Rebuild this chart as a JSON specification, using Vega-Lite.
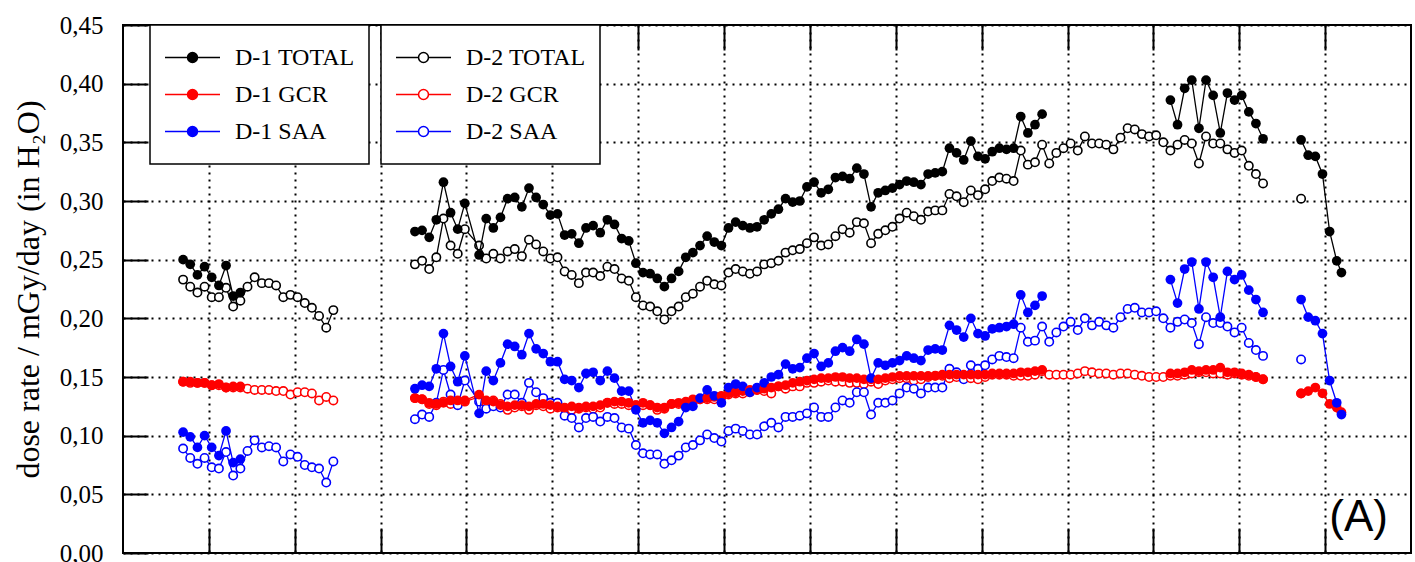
{
  "$schema": "https://vega.github.io/schema/vega-lite/v6.json",
  "width": 1288,
  "height": 528,
  "autosize": "none",
  "padding": {"left": 123, "top": 25, "right": 4, "bottom": 9},
  "background": "white",
  "config": {
    "view": {"stroke": "black", "strokeWidth": 2},
    "font": "Liberation Serif"
  },
  "title": {
    "text": "(A)",
    "orient": "bottom",
    "anchor": "end",
    "frame": "group",
    "offset": -70,
    "dx": -23,
    "font": "Liberation Sans",
    "fontSize": 44,
    "fontWeight": "normal",
    "color": "black"
  },
  "datasets": {
    "d1": [
      {"x": 0.700, "seg": 1, "TOTAL": 0.250, "GCR": 0.146, "SAA": 0.103},
      {"x": 0.783, "seg": 1, "TOTAL": 0.246, "GCR": 0.146, "SAA": 0.099},
      {"x": 0.867, "seg": 1, "TOTAL": 0.237, "GCR": 0.145, "SAA": 0.090},
      {"x": 0.950, "seg": 1, "TOTAL": 0.244, "GCR": 0.145, "SAA": 0.100},
      {"x": 1.033, "seg": 1, "TOTAL": 0.235, "GCR": 0.143, "SAA": 0.090},
      {"x": 1.117, "seg": 1, "TOTAL": 0.228, "GCR": 0.144, "SAA": 0.083},
      {"x": 1.200, "seg": 1, "TOTAL": 0.245, "GCR": 0.141, "SAA": 0.104},
      {"x": 1.283, "seg": 1, "TOTAL": 0.219, "GCR": 0.142, "SAA": 0.077},
      {"x": 1.367, "seg": 1, "TOTAL": 0.222, "GCR": 0.142, "SAA": 0.080},
      {"x": 3.400, "seg": 2, "TOTAL": 0.274, "GCR": 0.132, "SAA": 0.140},
      {"x": 3.483, "seg": 2, "TOTAL": 0.275, "GCR": 0.131, "SAA": 0.143},
      {"x": 3.566, "seg": 2, "TOTAL": 0.269, "GCR": 0.128, "SAA": 0.142},
      {"x": 3.649, "seg": 2, "TOTAL": 0.284, "GCR": 0.127, "SAA": 0.157},
      {"x": 3.732, "seg": 2, "TOTAL": 0.316, "GCR": 0.128, "SAA": 0.187},
      {"x": 3.815, "seg": 2, "TOTAL": 0.290, "GCR": 0.130, "SAA": 0.159},
      {"x": 3.898, "seg": 2, "TOTAL": 0.276, "GCR": 0.130, "SAA": 0.146},
      {"x": 3.981, "seg": 2, "TOTAL": 0.298, "GCR": 0.130, "SAA": 0.168},
      {"x": 4.147, "seg": 2, "TOTAL": 0.254, "GCR": 0.135, "SAA": 0.119},
      {"x": 4.230, "seg": 2, "TOTAL": 0.285, "GCR": 0.130, "SAA": 0.155},
      {"x": 4.313, "seg": 2, "TOTAL": 0.277, "GCR": 0.129, "SAA": 0.147},
      {"x": 4.396, "seg": 2, "TOTAL": 0.286, "GCR": 0.126, "SAA": 0.162},
      {"x": 4.479, "seg": 2, "TOTAL": 0.302, "GCR": 0.125, "SAA": 0.178},
      {"x": 4.562, "seg": 2, "TOTAL": 0.303, "GCR": 0.126, "SAA": 0.176},
      {"x": 4.645, "seg": 2, "TOTAL": 0.295, "GCR": 0.126, "SAA": 0.169},
      {"x": 4.728, "seg": 2, "TOTAL": 0.311, "GCR": 0.125, "SAA": 0.187},
      {"x": 4.811, "seg": 2, "TOTAL": 0.303, "GCR": 0.127, "SAA": 0.174},
      {"x": 4.894, "seg": 2, "TOTAL": 0.297, "GCR": 0.127, "SAA": 0.170},
      {"x": 4.977, "seg": 2, "TOTAL": 0.288, "GCR": 0.126, "SAA": 0.163},
      {"x": 5.060, "seg": 2, "TOTAL": 0.289, "GCR": 0.125, "SAA": 0.163},
      {"x": 5.143, "seg": 2, "TOTAL": 0.271, "GCR": 0.124, "SAA": 0.148},
      {"x": 5.226, "seg": 2, "TOTAL": 0.272, "GCR": 0.125, "SAA": 0.147},
      {"x": 5.309, "seg": 2, "TOTAL": 0.264, "GCR": 0.124, "SAA": 0.141},
      {"x": 5.392, "seg": 2, "TOTAL": 0.277, "GCR": 0.125, "SAA": 0.153},
      {"x": 5.475, "seg": 2, "TOTAL": 0.279, "GCR": 0.125, "SAA": 0.154},
      {"x": 5.558, "seg": 2, "TOTAL": 0.273, "GCR": 0.126, "SAA": 0.147},
      {"x": 5.641, "seg": 2, "TOTAL": 0.284, "GCR": 0.128, "SAA": 0.155},
      {"x": 5.724, "seg": 2, "TOTAL": 0.280, "GCR": 0.129, "SAA": 0.149},
      {"x": 5.807, "seg": 2, "TOTAL": 0.268, "GCR": 0.129, "SAA": 0.138},
      {"x": 5.890, "seg": 2, "TOTAL": 0.266, "GCR": 0.128, "SAA": 0.138},
      {"x": 5.973, "seg": 2, "TOTAL": 0.247, "GCR": 0.126, "SAA": 0.122},
      {"x": 6.056, "seg": 2, "TOTAL": 0.239, "GCR": 0.128, "SAA": 0.111},
      {"x": 6.139, "seg": 2, "TOTAL": 0.238, "GCR": 0.126, "SAA": 0.113},
      {"x": 6.222, "seg": 2, "TOTAL": 0.234, "GCR": 0.124, "SAA": 0.111},
      {"x": 6.305, "seg": 2, "TOTAL": 0.227, "GCR": 0.124, "SAA": 0.102},
      {"x": 6.388, "seg": 2, "TOTAL": 0.234, "GCR": 0.127, "SAA": 0.107},
      {"x": 6.471, "seg": 2, "TOTAL": 0.240, "GCR": 0.128, "SAA": 0.112},
      {"x": 6.554, "seg": 2, "TOTAL": 0.252, "GCR": 0.129, "SAA": 0.124},
      {"x": 6.637, "seg": 2, "TOTAL": 0.256, "GCR": 0.131, "SAA": 0.125},
      {"x": 6.720, "seg": 2, "TOTAL": 0.262, "GCR": 0.131, "SAA": 0.132},
      {"x": 6.803, "seg": 2, "TOTAL": 0.270, "GCR": 0.132, "SAA": 0.139},
      {"x": 6.886, "seg": 2, "TOTAL": 0.265, "GCR": 0.133, "SAA": 0.134},
      {"x": 6.969, "seg": 2, "TOTAL": 0.262, "GCR": 0.134, "SAA": 0.128},
      {"x": 7.052, "seg": 2, "TOTAL": 0.277, "GCR": 0.136, "SAA": 0.141},
      {"x": 7.135, "seg": 2, "TOTAL": 0.282, "GCR": 0.137, "SAA": 0.144},
      {"x": 7.218, "seg": 2, "TOTAL": 0.279, "GCR": 0.138, "SAA": 0.142},
      {"x": 7.301, "seg": 2, "TOTAL": 0.277, "GCR": 0.139, "SAA": 0.137},
      {"x": 7.384, "seg": 2, "TOTAL": 0.278, "GCR": 0.139, "SAA": 0.141},
      {"x": 7.467, "seg": 2, "TOTAL": 0.284, "GCR": 0.140, "SAA": 0.145},
      {"x": 7.550, "seg": 2, "TOTAL": 0.289, "GCR": 0.141, "SAA": 0.150},
      {"x": 7.633, "seg": 2, "TOTAL": 0.293, "GCR": 0.142, "SAA": 0.152},
      {"x": 7.716, "seg": 2, "TOTAL": 0.302, "GCR": 0.143, "SAA": 0.161},
      {"x": 7.799, "seg": 2, "TOTAL": 0.299, "GCR": 0.145, "SAA": 0.157},
      {"x": 7.882, "seg": 2, "TOTAL": 0.300, "GCR": 0.146, "SAA": 0.158},
      {"x": 7.965, "seg": 2, "TOTAL": 0.312, "GCR": 0.147, "SAA": 0.166},
      {"x": 8.048, "seg": 2, "TOTAL": 0.316, "GCR": 0.148, "SAA": 0.170},
      {"x": 8.131, "seg": 2, "TOTAL": 0.307, "GCR": 0.149, "SAA": 0.159},
      {"x": 8.214, "seg": 2, "TOTAL": 0.310, "GCR": 0.149, "SAA": 0.162},
      {"x": 8.297, "seg": 2, "TOTAL": 0.320, "GCR": 0.150, "SAA": 0.172},
      {"x": 8.380, "seg": 2, "TOTAL": 0.321, "GCR": 0.150, "SAA": 0.175},
      {"x": 8.463, "seg": 2, "TOTAL": 0.319, "GCR": 0.149, "SAA": 0.172},
      {"x": 8.546, "seg": 2, "TOTAL": 0.328, "GCR": 0.149, "SAA": 0.182},
      {"x": 8.629, "seg": 2, "TOTAL": 0.323, "GCR": 0.148, "SAA": 0.178},
      {"x": 8.712, "seg": 2, "TOTAL": 0.295, "GCR": 0.148, "SAA": 0.149},
      {"x": 8.795, "seg": 2, "TOTAL": 0.307, "GCR": 0.148, "SAA": 0.162},
      {"x": 8.878, "seg": 2, "TOTAL": 0.309, "GCR": 0.149, "SAA": 0.160},
      {"x": 8.961, "seg": 2, "TOTAL": 0.311, "GCR": 0.150, "SAA": 0.162},
      {"x": 9.044, "seg": 2, "TOTAL": 0.314, "GCR": 0.151, "SAA": 0.164},
      {"x": 9.127, "seg": 2, "TOTAL": 0.317, "GCR": 0.151, "SAA": 0.168},
      {"x": 9.210, "seg": 2, "TOTAL": 0.316, "GCR": 0.151, "SAA": 0.166},
      {"x": 9.293, "seg": 2, "TOTAL": 0.314, "GCR": 0.151, "SAA": 0.164},
      {"x": 9.376, "seg": 2, "TOTAL": 0.323, "GCR": 0.151, "SAA": 0.173},
      {"x": 9.459, "seg": 2, "TOTAL": 0.324, "GCR": 0.151, "SAA": 0.174},
      {"x": 9.542, "seg": 2, "TOTAL": 0.325, "GCR": 0.152, "SAA": 0.173},
      {"x": 9.625, "seg": 2, "TOTAL": 0.345, "GCR": 0.152, "SAA": 0.194},
      {"x": 9.708, "seg": 2, "TOTAL": 0.341, "GCR": 0.152, "SAA": 0.190},
      {"x": 9.791, "seg": 2, "TOTAL": 0.335, "GCR": 0.152, "SAA": 0.184},
      {"x": 9.874, "seg": 2, "TOTAL": 0.351, "GCR": 0.152, "SAA": 0.200},
      {"x": 9.957, "seg": 2, "TOTAL": 0.338, "GCR": 0.152, "SAA": 0.187},
      {"x": 10.040, "seg": 2, "TOTAL": 0.336, "GCR": 0.152, "SAA": 0.185},
      {"x": 10.123, "seg": 2, "TOTAL": 0.342, "GCR": 0.153, "SAA": 0.191},
      {"x": 10.206, "seg": 2, "TOTAL": 0.345, "GCR": 0.153, "SAA": 0.192},
      {"x": 10.289, "seg": 2, "TOTAL": 0.344, "GCR": 0.153, "SAA": 0.193},
      {"x": 10.372, "seg": 2, "TOTAL": 0.345, "GCR": 0.153, "SAA": 0.195},
      {"x": 10.455, "seg": 2, "TOTAL": 0.372, "GCR": 0.154, "SAA": 0.220},
      {"x": 10.538, "seg": 2, "TOTAL": 0.358, "GCR": 0.154, "SAA": 0.205},
      {"x": 10.621, "seg": 2, "TOTAL": 0.365, "GCR": 0.155, "SAA": 0.211},
      {"x": 10.704, "seg": 2, "TOTAL": 0.374, "GCR": 0.156, "SAA": 0.219},
      {"x": 12.198, "seg": 3, "TOTAL": 0.386, "GCR": 0.153, "SAA": 0.233},
      {"x": 12.281, "seg": 3, "TOTAL": 0.365, "GCR": 0.153, "SAA": 0.213},
      {"x": 12.364, "seg": 3, "TOTAL": 0.396, "GCR": 0.154, "SAA": 0.242},
      {"x": 12.447, "seg": 3, "TOTAL": 0.403, "GCR": 0.156, "SAA": 0.248},
      {"x": 12.530, "seg": 3, "TOTAL": 0.362, "GCR": 0.155, "SAA": 0.208},
      {"x": 12.613, "seg": 3, "TOTAL": 0.403, "GCR": 0.156, "SAA": 0.248},
      {"x": 12.696, "seg": 3, "TOTAL": 0.390, "GCR": 0.156, "SAA": 0.235},
      {"x": 12.779, "seg": 3, "TOTAL": 0.358, "GCR": 0.158, "SAA": 0.201},
      {"x": 12.862, "seg": 3, "TOTAL": 0.392, "GCR": 0.154, "SAA": 0.240},
      {"x": 12.945, "seg": 3, "TOTAL": 0.386, "GCR": 0.154, "SAA": 0.233},
      {"x": 13.028, "seg": 3, "TOTAL": 0.390, "GCR": 0.153, "SAA": 0.237},
      {"x": 13.111, "seg": 3, "TOTAL": 0.376, "GCR": 0.152, "SAA": 0.224},
      {"x": 13.194, "seg": 3, "TOTAL": 0.366, "GCR": 0.150, "SAA": 0.216},
      {"x": 13.277, "seg": 3, "TOTAL": 0.353, "GCR": 0.148, "SAA": 0.205},
      {"x": 13.720, "seg": 4, "TOTAL": 0.352, "GCR": 0.136, "SAA": 0.216},
      {"x": 13.803, "seg": 4, "TOTAL": 0.339, "GCR": 0.138, "SAA": 0.201},
      {"x": 13.886, "seg": 4, "TOTAL": 0.338, "GCR": 0.141, "SAA": 0.198},
      {"x": 13.969, "seg": 4, "TOTAL": 0.323, "GCR": 0.136, "SAA": 0.187},
      {"x": 14.052, "seg": 4, "TOTAL": 0.274, "GCR": 0.127, "SAA": 0.147},
      {"x": 14.135, "seg": 4, "TOTAL": 0.249, "GCR": 0.124, "SAA": 0.128},
      {"x": 14.190, "seg": 4, "TOTAL": 0.239, "GCR": 0.120, "SAA": 0.118}
    ],
    "d2": [
      {"x": 0.700, "seg": 1, "TOTAL": 0.233, "GCR": 0.146, "SAA": 0.089},
      {"x": 0.783, "seg": 1, "TOTAL": 0.227, "GCR": 0.145, "SAA": 0.081},
      {"x": 0.867, "seg": 1, "TOTAL": 0.222, "GCR": 0.145, "SAA": 0.076},
      {"x": 0.950, "seg": 1, "TOTAL": 0.227, "GCR": 0.145, "SAA": 0.081},
      {"x": 1.033, "seg": 1, "TOTAL": 0.218, "GCR": 0.143, "SAA": 0.073},
      {"x": 1.117, "seg": 1, "TOTAL": 0.218, "GCR": 0.143, "SAA": 0.072},
      {"x": 1.200, "seg": 1, "TOTAL": 0.226, "GCR": 0.141, "SAA": 0.086},
      {"x": 1.283, "seg": 1, "TOTAL": 0.210, "GCR": 0.141, "SAA": 0.066},
      {"x": 1.367, "seg": 1, "TOTAL": 0.215, "GCR": 0.141, "SAA": 0.072},
      {"x": 1.450, "seg": 1, "TOTAL": 0.227, "GCR": 0.140, "SAA": 0.087},
      {"x": 1.533, "seg": 1, "TOTAL": 0.235, "GCR": 0.139, "SAA": 0.096},
      {"x": 1.617, "seg": 1, "TOTAL": 0.230, "GCR": 0.139, "SAA": 0.090},
      {"x": 1.700, "seg": 1, "TOTAL": 0.230, "GCR": 0.139, "SAA": 0.091},
      {"x": 1.783, "seg": 1, "TOTAL": 0.228, "GCR": 0.138, "SAA": 0.090},
      {"x": 1.867, "seg": 1, "TOTAL": 0.218, "GCR": 0.138, "SAA": 0.078},
      {"x": 1.950, "seg": 1, "TOTAL": 0.220, "GCR": 0.135, "SAA": 0.084},
      {"x": 2.033, "seg": 1, "TOTAL": 0.218, "GCR": 0.137, "SAA": 0.082},
      {"x": 2.117, "seg": 1, "TOTAL": 0.213, "GCR": 0.137, "SAA": 0.075},
      {"x": 2.200, "seg": 1, "TOTAL": 0.209, "GCR": 0.136, "SAA": 0.073},
      {"x": 2.283, "seg": 1, "TOTAL": 0.202, "GCR": 0.130, "SAA": 0.072},
      {"x": 2.367, "seg": 1, "TOTAL": 0.192, "GCR": 0.133, "SAA": 0.060},
      {"x": 2.450, "seg": 1, "TOTAL": 0.207, "GCR": 0.130, "SAA": 0.078},
      {"x": 3.400, "seg": 2, "TOTAL": 0.246, "GCR": 0.132, "SAA": 0.114},
      {"x": 3.483, "seg": 2, "TOTAL": 0.249, "GCR": 0.131, "SAA": 0.118},
      {"x": 3.566, "seg": 2, "TOTAL": 0.242, "GCR": 0.127, "SAA": 0.116},
      {"x": 3.649, "seg": 2, "TOTAL": 0.252, "GCR": 0.126, "SAA": 0.128},
      {"x": 3.732, "seg": 2, "TOTAL": 0.285, "GCR": 0.129, "SAA": 0.156},
      {"x": 3.815, "seg": 2, "TOTAL": 0.262, "GCR": 0.127, "SAA": 0.135},
      {"x": 3.898, "seg": 2, "TOTAL": 0.255, "GCR": 0.129, "SAA": 0.126},
      {"x": 3.981, "seg": 2, "TOTAL": 0.276, "GCR": 0.129, "SAA": 0.147},
      {"x": 4.147, "seg": 2, "TOTAL": 0.262, "GCR": 0.133, "SAA": 0.129},
      {"x": 4.230, "seg": 2, "TOTAL": 0.251, "GCR": 0.128, "SAA": 0.123},
      {"x": 4.313, "seg": 2, "TOTAL": 0.255, "GCR": 0.130, "SAA": 0.125},
      {"x": 4.396, "seg": 2, "TOTAL": 0.251, "GCR": 0.127, "SAA": 0.124},
      {"x": 4.479, "seg": 2, "TOTAL": 0.257, "GCR": 0.122, "SAA": 0.135},
      {"x": 4.562, "seg": 2, "TOTAL": 0.259, "GCR": 0.124, "SAA": 0.135},
      {"x": 4.645, "seg": 2, "TOTAL": 0.253, "GCR": 0.125, "SAA": 0.128},
      {"x": 4.728, "seg": 2, "TOTAL": 0.267, "GCR": 0.122, "SAA": 0.145},
      {"x": 4.811, "seg": 2, "TOTAL": 0.263, "GCR": 0.126, "SAA": 0.137},
      {"x": 4.894, "seg": 2, "TOTAL": 0.257, "GCR": 0.125, "SAA": 0.132},
      {"x": 4.977, "seg": 2, "TOTAL": 0.251, "GCR": 0.123, "SAA": 0.128},
      {"x": 5.060, "seg": 2, "TOTAL": 0.252, "GCR": 0.124, "SAA": 0.128},
      {"x": 5.143, "seg": 2, "TOTAL": 0.240, "GCR": 0.123, "SAA": 0.117},
      {"x": 5.226, "seg": 2, "TOTAL": 0.237, "GCR": 0.122, "SAA": 0.115},
      {"x": 5.309, "seg": 2, "TOTAL": 0.230, "GCR": 0.123, "SAA": 0.107},
      {"x": 5.392, "seg": 2, "TOTAL": 0.239, "GCR": 0.124, "SAA": 0.115},
      {"x": 5.475, "seg": 2, "TOTAL": 0.239, "GCR": 0.123, "SAA": 0.116},
      {"x": 5.558, "seg": 2, "TOTAL": 0.236, "GCR": 0.124, "SAA": 0.112},
      {"x": 5.641, "seg": 2, "TOTAL": 0.244, "GCR": 0.128, "SAA": 0.116},
      {"x": 5.724, "seg": 2, "TOTAL": 0.242, "GCR": 0.127, "SAA": 0.115},
      {"x": 5.807, "seg": 2, "TOTAL": 0.234, "GCR": 0.127, "SAA": 0.107},
      {"x": 5.890, "seg": 2, "TOTAL": 0.232, "GCR": 0.126, "SAA": 0.106},
      {"x": 5.973, "seg": 2, "TOTAL": 0.218, "GCR": 0.126, "SAA": 0.092},
      {"x": 6.056, "seg": 2, "TOTAL": 0.211, "GCR": 0.126, "SAA": 0.085},
      {"x": 6.139, "seg": 2, "TOTAL": 0.210, "GCR": 0.126, "SAA": 0.084},
      {"x": 6.222, "seg": 2, "TOTAL": 0.206, "GCR": 0.122, "SAA": 0.084},
      {"x": 6.305, "seg": 2, "TOTAL": 0.199, "GCR": 0.123, "SAA": 0.076},
      {"x": 6.388, "seg": 2, "TOTAL": 0.206, "GCR": 0.127, "SAA": 0.079},
      {"x": 6.471, "seg": 2, "TOTAL": 0.210, "GCR": 0.127, "SAA": 0.083},
      {"x": 6.554, "seg": 2, "TOTAL": 0.218, "GCR": 0.128, "SAA": 0.090},
      {"x": 6.637, "seg": 2, "TOTAL": 0.221, "GCR": 0.129, "SAA": 0.092},
      {"x": 6.720, "seg": 2, "TOTAL": 0.227, "GCR": 0.131, "SAA": 0.096},
      {"x": 6.803, "seg": 2, "TOTAL": 0.232, "GCR": 0.131, "SAA": 0.101},
      {"x": 6.886, "seg": 2, "TOTAL": 0.229, "GCR": 0.131, "SAA": 0.098},
      {"x": 6.969, "seg": 2, "TOTAL": 0.228, "GCR": 0.133, "SAA": 0.095},
      {"x": 7.052, "seg": 2, "TOTAL": 0.239, "GCR": 0.135, "SAA": 0.104},
      {"x": 7.135, "seg": 2, "TOTAL": 0.242, "GCR": 0.136, "SAA": 0.106},
      {"x": 7.218, "seg": 2, "TOTAL": 0.240, "GCR": 0.136, "SAA": 0.104},
      {"x": 7.301, "seg": 2, "TOTAL": 0.238, "GCR": 0.137, "SAA": 0.101},
      {"x": 7.384, "seg": 2, "TOTAL": 0.240, "GCR": 0.139, "SAA": 0.101},
      {"x": 7.467, "seg": 2, "TOTAL": 0.246, "GCR": 0.138, "SAA": 0.108},
      {"x": 7.550, "seg": 2, "TOTAL": 0.247, "GCR": 0.136, "SAA": 0.111},
      {"x": 7.633, "seg": 2, "TOTAL": 0.249, "GCR": 0.142, "SAA": 0.107},
      {"x": 7.716, "seg": 2, "TOTAL": 0.256, "GCR": 0.140, "SAA": 0.116},
      {"x": 7.799, "seg": 2, "TOTAL": 0.258, "GCR": 0.142, "SAA": 0.116},
      {"x": 7.882, "seg": 2, "TOTAL": 0.259, "GCR": 0.142, "SAA": 0.117},
      {"x": 7.965, "seg": 2, "TOTAL": 0.264, "GCR": 0.145, "SAA": 0.119},
      {"x": 8.048, "seg": 2, "TOTAL": 0.269, "GCR": 0.145, "SAA": 0.124},
      {"x": 8.131, "seg": 2, "TOTAL": 0.262, "GCR": 0.146, "SAA": 0.116},
      {"x": 8.214, "seg": 2, "TOTAL": 0.263, "GCR": 0.147, "SAA": 0.116},
      {"x": 8.297, "seg": 2, "TOTAL": 0.270, "GCR": 0.146, "SAA": 0.124},
      {"x": 8.380, "seg": 2, "TOTAL": 0.276, "GCR": 0.146, "SAA": 0.130},
      {"x": 8.463, "seg": 2, "TOTAL": 0.273, "GCR": 0.145, "SAA": 0.128},
      {"x": 8.546, "seg": 2, "TOTAL": 0.282, "GCR": 0.145, "SAA": 0.137},
      {"x": 8.629, "seg": 2, "TOTAL": 0.281, "GCR": 0.144, "SAA": 0.137},
      {"x": 8.712, "seg": 2, "TOTAL": 0.264, "GCR": 0.146, "SAA": 0.118},
      {"x": 8.795, "seg": 2, "TOTAL": 0.272, "GCR": 0.144, "SAA": 0.128},
      {"x": 8.878, "seg": 2, "TOTAL": 0.275, "GCR": 0.147, "SAA": 0.128},
      {"x": 8.961, "seg": 2, "TOTAL": 0.278, "GCR": 0.148, "SAA": 0.130},
      {"x": 9.044, "seg": 2, "TOTAL": 0.285, "GCR": 0.149, "SAA": 0.136},
      {"x": 9.127, "seg": 2, "TOTAL": 0.290, "GCR": 0.149, "SAA": 0.141},
      {"x": 9.210, "seg": 2, "TOTAL": 0.287, "GCR": 0.147, "SAA": 0.140},
      {"x": 9.293, "seg": 2, "TOTAL": 0.284, "GCR": 0.148, "SAA": 0.136},
      {"x": 9.376, "seg": 2, "TOTAL": 0.291, "GCR": 0.150, "SAA": 0.141},
      {"x": 9.459, "seg": 2, "TOTAL": 0.292, "GCR": 0.151, "SAA": 0.141},
      {"x": 9.542, "seg": 2, "TOTAL": 0.292, "GCR": 0.151, "SAA": 0.141},
      {"x": 9.625, "seg": 2, "TOTAL": 0.306, "GCR": 0.149, "SAA": 0.157},
      {"x": 9.708, "seg": 2, "TOTAL": 0.304, "GCR": 0.150, "SAA": 0.154},
      {"x": 9.791, "seg": 2, "TOTAL": 0.299, "GCR": 0.151, "SAA": 0.148},
      {"x": 9.874, "seg": 2, "TOTAL": 0.309, "GCR": 0.149, "SAA": 0.160},
      {"x": 9.957, "seg": 2, "TOTAL": 0.305, "GCR": 0.148, "SAA": 0.157},
      {"x": 10.040, "seg": 2, "TOTAL": 0.310, "GCR": 0.150, "SAA": 0.160},
      {"x": 10.123, "seg": 2, "TOTAL": 0.317, "GCR": 0.152, "SAA": 0.165},
      {"x": 10.206, "seg": 2, "TOTAL": 0.320, "GCR": 0.152, "SAA": 0.168},
      {"x": 10.289, "seg": 2, "TOTAL": 0.319, "GCR": 0.152, "SAA": 0.167},
      {"x": 10.372, "seg": 2, "TOTAL": 0.317, "GCR": 0.151, "SAA": 0.166},
      {"x": 10.455, "seg": 2, "TOTAL": 0.343, "GCR": 0.151, "SAA": 0.192},
      {"x": 10.538, "seg": 2, "TOTAL": 0.331, "GCR": 0.151, "SAA": 0.180},
      {"x": 10.621, "seg": 2, "TOTAL": 0.333, "GCR": 0.152, "SAA": 0.181},
      {"x": 10.704, "seg": 2, "TOTAL": 0.348, "GCR": 0.155, "SAA": 0.193},
      {"x": 10.787, "seg": 2, "TOTAL": 0.332, "GCR": 0.152, "SAA": 0.180},
      {"x": 10.870, "seg": 2, "TOTAL": 0.341, "GCR": 0.152, "SAA": 0.188},
      {"x": 10.953, "seg": 2, "TOTAL": 0.345, "GCR": 0.152, "SAA": 0.193},
      {"x": 11.036, "seg": 2, "TOTAL": 0.349, "GCR": 0.152, "SAA": 0.197},
      {"x": 11.119, "seg": 2, "TOTAL": 0.343, "GCR": 0.153, "SAA": 0.190},
      {"x": 11.202, "seg": 2, "TOTAL": 0.355, "GCR": 0.155, "SAA": 0.200},
      {"x": 11.285, "seg": 2, "TOTAL": 0.349, "GCR": 0.154, "SAA": 0.194},
      {"x": 11.368, "seg": 2, "TOTAL": 0.349, "GCR": 0.153, "SAA": 0.197},
      {"x": 11.451, "seg": 2, "TOTAL": 0.348, "GCR": 0.153, "SAA": 0.194},
      {"x": 11.534, "seg": 2, "TOTAL": 0.344, "GCR": 0.152, "SAA": 0.192},
      {"x": 11.617, "seg": 2, "TOTAL": 0.354, "GCR": 0.153, "SAA": 0.201},
      {"x": 11.700, "seg": 2, "TOTAL": 0.362, "GCR": 0.153, "SAA": 0.208},
      {"x": 11.783, "seg": 2, "TOTAL": 0.361, "GCR": 0.152, "SAA": 0.209},
      {"x": 11.866, "seg": 2, "TOTAL": 0.357, "GCR": 0.151, "SAA": 0.205},
      {"x": 11.949, "seg": 2, "TOTAL": 0.355, "GCR": 0.150, "SAA": 0.205},
      {"x": 12.032, "seg": 2, "TOTAL": 0.356, "GCR": 0.150, "SAA": 0.206},
      {"x": 12.115, "seg": 2, "TOTAL": 0.350, "GCR": 0.150, "SAA": 0.200},
      {"x": 12.198, "seg": 2, "TOTAL": 0.343, "GCR": 0.151, "SAA": 0.192},
      {"x": 12.281, "seg": 2, "TOTAL": 0.348, "GCR": 0.151, "SAA": 0.197},
      {"x": 12.364, "seg": 2, "TOTAL": 0.352, "GCR": 0.152, "SAA": 0.199},
      {"x": 12.447, "seg": 2, "TOTAL": 0.349, "GCR": 0.153, "SAA": 0.196},
      {"x": 12.530, "seg": 2, "TOTAL": 0.332, "GCR": 0.154, "SAA": 0.178},
      {"x": 12.613, "seg": 2, "TOTAL": 0.355, "GCR": 0.154, "SAA": 0.201},
      {"x": 12.696, "seg": 2, "TOTAL": 0.349, "GCR": 0.153, "SAA": 0.196},
      {"x": 12.779, "seg": 2, "TOTAL": 0.349, "GCR": 0.153, "SAA": 0.196},
      {"x": 12.862, "seg": 2, "TOTAL": 0.344, "GCR": 0.152, "SAA": 0.193},
      {"x": 12.945, "seg": 2, "TOTAL": 0.341, "GCR": 0.153, "SAA": 0.188},
      {"x": 13.028, "seg": 2, "TOTAL": 0.343, "GCR": 0.152, "SAA": 0.192},
      {"x": 13.111, "seg": 2, "TOTAL": 0.330, "GCR": 0.151, "SAA": 0.179},
      {"x": 13.194, "seg": 2, "TOTAL": 0.323, "GCR": 0.150, "SAA": 0.173},
      {"x": 13.277, "seg": 2, "TOTAL": 0.315, "GCR": 0.148, "SAA": 0.168},
      {"x": 13.720, "seg": 3, "TOTAL": 0.302, "GCR": 0.136, "SAA": 0.165}
    ]
  },
  "layer": [
    {
      "data": {"name": "d2"},
      "transform": [{"fold": ["TOTAL", "GCR", "SAA"], "as": ["series", "dose"]}],
      "encoding": {
        "x": {
          "field": "x", "type": "quantitative",
          "scale": {"domain": [0, 15], "nice": false, "zero": false},
          "axis": {
            "orient": "bottom", "title": null, "labels": false, "domain": false,
            "values": [1, 2, 3, 4, 5, 6, 7, 8, 9, 10, 11, 12, 13, 14],
            "grid": true, "gridColor": "black", "gridWidth": 2, "gridDash": [2, 5], "gridOpacity": 1,
            "ticks": true, "tickSize": -25, "tickColor": "black", "tickWidth": 2
          }
        },
        "y": {
          "field": "dose", "type": "quantitative",
          "scale": {"domain": [0, 0.45], "nice": false},
          "axis": {
            "values": [0, 0.025, 0.05, 0.075, 0.1, 0.125, 0.15, 0.175, 0.2, 0.225, 0.25, 0.275, 0.3, 0.325, 0.35, 0.375, 0.4, 0.425, 0.45],
            "labelExpr": "round(datum.value * 1000) % 50 === 0 ? replace(format(datum.value, '.2f'), '.', ',') : ''",
            "labelFont": "Liberation Serif", "labelFontSize": 25, "labelColor": "black",
            "labelPadding": 45, "labelFlush": false, "labelOverlap": false,
            "domain": false,
            "grid": true, "gridColor": "black", "gridWidth": 2, "gridDash": [2, 5],
            "gridOpacity": {"condition": {"test": "round(datum.value * 1000) % 50 === 0", "value": 1}, "value": 0},
            "ticks": true, "tickColor": "black", "tickWidth": 2,
            "tickSize": {"condition": {"test": "round(datum.value * 1000) % 50 === 0", "value": -25}, "value": -16},
            "title": "dose rate / mGy/day (in H₂O)",
            "titleFont": "Liberation Serif", "titleFontSize": 32, "titleFontWeight": "normal", "titleColor": "black",
            "titleX": -95, "titleBaseline": "middle"
          }
        },
        "color": {
          "field": "series", "type": "nominal",
          "scale": {"domain": ["TOTAL", "GCR", "SAA"], "range": ["#000000", "#ff0000", "#0000ff"]},
          "legend": {
            "orient": "none", "legendX": 258, "legendY": 0, "title": null,
            "labelExpr": "'D-2 ' + datum.label",
            "symbolType": "M-1,0H-0.18M0.18,0H1M0.18,0A0.18,0.18 0 1,1 -0.18,0A0.18,0.18 0 1,1 0.18,0",
            "symbolSize": 3025, "symbolStrokeWidth": 1.5,
            "clipHeight": 37, "rowPadding": 0, "padding": 14, "labelOffset": 14,
            "labelFont": "Liberation Serif", "labelFontSize": 24, "labelColor": "black", "labelLimit": 400,
            "strokeColor": "black", "fillColor": "white",
            "encode": {
              "symbols": {"update": {
                "fill": {"value": "white"},
                "stroke": {"signal": "datum.value === 'TOTAL' ? '#000000' : datum.value === 'GCR' ? '#ff0000' : '#0000ff'"},
                "strokeWidth": {"value": 1.5},
                "opacity": {"value": 1}
              }},
              "legend": {"update": {"strokeWidth": {"value": 1.5}}}
            }
          }
        },
        "detail": {"field": "seg", "type": "nominal"}
      },
      "layer": [
        {"mark": {"type": "line", "strokeWidth": 1.3}},
        {"mark": {"type": "point", "shape": "circle", "filled": false, "fill": "white", "size": 70, "strokeWidth": 1.6, "opacity": 1}}
      ]
    },
    {
      "data": {"name": "d1"},
      "transform": [{"fold": ["TOTAL", "GCR", "SAA"], "as": ["series", "dose"]}],
      "encoding": {
        "x": {
          "field": "x", "type": "quantitative",
          "scale": {"domain": [0, 15], "nice": false, "zero": false},
          "axis": {
            "orient": "top", "title": null, "labels": false, "domain": false,
            "values": [1, 2, 3, 4, 5, 6, 7, 8, 9, 10, 11, 12, 13, 14],
            "grid": false,
            "ticks": true, "tickSize": -25, "tickColor": "black", "tickWidth": 2
          }
        },
        "y": {
          "field": "dose", "type": "quantitative",
          "scale": {"domain": [0, 0.45], "nice": false}
        },
        "color": {
          "field": "series", "type": "nominal",
          "scale": {"domain": ["TOTAL", "GCR", "SAA"], "range": ["#000000", "#ff0000", "#0000ff"]},
          "legend": {
            "orient": "none", "legendX": 27, "legendY": 0, "title": null,
            "labelExpr": "'D-1 ' + datum.label",
            "symbolType": "M-1,0H-0.18M0.18,0H1M0.18,0A0.18,0.18 0 1,1 -0.18,0A0.18,0.18 0 1,1 0.18,0",
            "symbolSize": 3025, "symbolStrokeWidth": 1.5,
            "clipHeight": 37, "rowPadding": 0, "padding": 14, "labelOffset": 14,
            "labelFont": "Liberation Serif", "labelFontSize": 24, "labelColor": "black", "labelLimit": 400,
            "strokeColor": "black", "fillColor": "white",
            "encode": {
              "symbols": {"update": {
                "fill": {"signal": "datum.value === 'TOTAL' ? '#000000' : datum.value === 'GCR' ? '#ff0000' : '#0000ff'"},
                "stroke": {"signal": "datum.value === 'TOTAL' ? '#000000' : datum.value === 'GCR' ? '#ff0000' : '#0000ff'"},
                "strokeWidth": {"value": 1.5},
                "opacity": {"value": 1}
              }},
              "legend": {"update": {"strokeWidth": {"value": 1.5}}}
            }
          }
        },
        "detail": {"field": "seg", "type": "nominal"}
      },
      "layer": [
        {"mark": {"type": "line", "strokeWidth": 1.3}},
        {"mark": {"type": "point", "shape": "circle", "filled": true, "size": 95, "opacity": 1}}
      ]
    }
  ],
  "resolve": {
    "scale": {"color": "independent"},
    "axis": {"x": "independent"}
  }
}
